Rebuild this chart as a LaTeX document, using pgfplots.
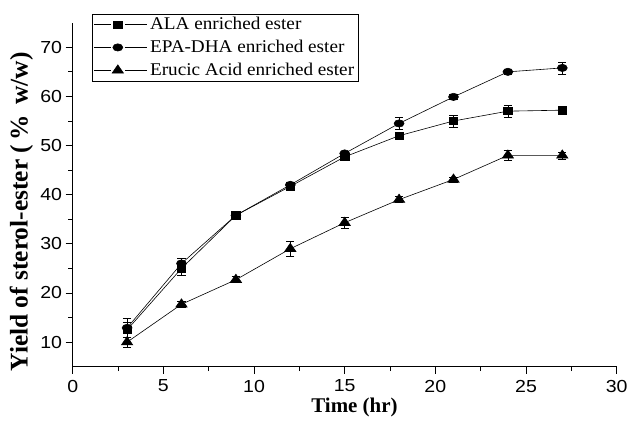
\documentclass[border=0pt]{standalone}
\usepackage{pgfplots}
\pgfplotsset{compat=1.18}
\usepackage{fontspec}
\setmainfont{Liberation Serif}
\newfontfamily\tickfont[FakeStretch=1.12]{Liberation Sans}
\newfontfamily\legfont[FakeStretch=1.07]{Liberation Serif}
\begin{document}
\begin{tikzpicture}
\begin{axis}[
  scale only axis,
  width=544bp, height=344bp,
  xmin=0, xmax=30, ymin=5, ymax=75,
  xtick={0,5,...,30}, ytick={10,20,...,70},
  minor x tick num=1, minor y tick num=1,
  axis x line*=bottom, axis y line*=left,
  axis line style={-, line width=0.8pt},
  tick style={black, line width=0.8pt},
  tick align=outside,
  major tick length=7bp, minor tick length=4.5bp,
  ticklabel style={font=\tickfont\fontsize{17.5}{19}\selectfont},
  yticklabel style={inner xsep=3.5bp},
  xticklabel style={inner ysep=6bp},
  /pgf/number format/assume math mode=true,
  xlabel={\bfseries Time (hr)},
  ylabel={\bfseries Yield of sterol-ester (\,\%\, w/w)},
  xlabel style={font=\fontsize{21}{22}\selectfont, at={(axis description cs:0.518,-0.089)}, anchor=north, inner sep=0pt},
  ylabel style={font=\fontsize{25.5}{27}\selectfont, at={(axis description cs:-0.116,0.45)}, anchor=north, inner sep=0pt},
  legend style={at={(0.035,1.026)}, anchor=north west, draw=black, line width=0.6pt,
    font=\legfont\fontsize{18}{20}\selectfont, row sep=5bp, inner sep=1.5pt, cells={anchor=west}},
  legend image code/.code={
    \draw[#1, mark=none] (0bp,0bp) -- (17bp,0bp);
    \draw[#1, mark=none] (31bp,0bp) -- (53bp,0bp);
    \draw[#1, draw=none] plot coordinates {(24bp,0bp)};
  },
  every axis legend/.append style={nodes={inner xsep=3pt}},
]
\coordinate (bbl) at (axis description cs:-0.1336,-0.1637);
\coordinate (btr) at (axis description cs:1.0208,1.066);
\addplot[black, line width=0.6pt, mark=square*, mark size=3.65pt, mark options={fill=black, solid, xscale=1.14},
  error bars/.cd, y dir=both, y explicit, error bar style={line width=0.6pt}, error mark options={rotate=90, mark size=4.15bp, line width=0.6pt}]
 table[x=x, y=y, y error=e] {
x y e
3 12.5 1.5
6 25.0 1.3
9 35.8 0.4
12 41.7 0.4
15 47.7 0.5
18 52.0 0.6
21 55.0 1.2
24 57.0 1.2
27 57.2 0.5
};
\addlegendentry{ALA enriched ester}
\addplot[black, line width=0.6pt, mark=*, mark size=3.65pt, mark options={fill=black, solid, xscale=1.37},
  error bars/.cd, y dir=both, y explicit, error bar style={line width=0.6pt}, error mark options={rotate=90, mark size=4.15bp, line width=0.6pt}]
 table[x=x, y=y, y error=e] {
x y e
3 12.9 1.9
6 26.0 1.0
9 35.8 0.4
12 42.0 0.4
15 48.4 0.5
18 54.5 1.2
21 59.9 0.5
24 65.0 0.4
27 65.8 1.2
};
\addlegendentry{EPA-DHA enriched ester}
\addplot[black, line width=0.6pt, mark=triangle*, mark size=5.5pt, mark options={fill=black, solid, xscale=1.19},
  error bars/.cd, y dir=both, y explicit, error bar style={line width=0.6pt}, error mark options={rotate=90, mark size=4.15bp, line width=0.6pt}]
 table[x=x, y=y, y error=e] {
x y e
3 10.0 1.0
6 17.7 0.6
9 22.7 0.6
12 29.0 1.5
15 34.3 1.1
18 39.0 0.6
21 43.1 0.5
24 48.0 1.0
27 48.0 0.7
};
\addlegendentry{Erucic Acid enriched ester}
\end{axis}
\pgfresetboundingbox
\path (bbl) rectangle (btr);
\end{tikzpicture}
\end{document}
